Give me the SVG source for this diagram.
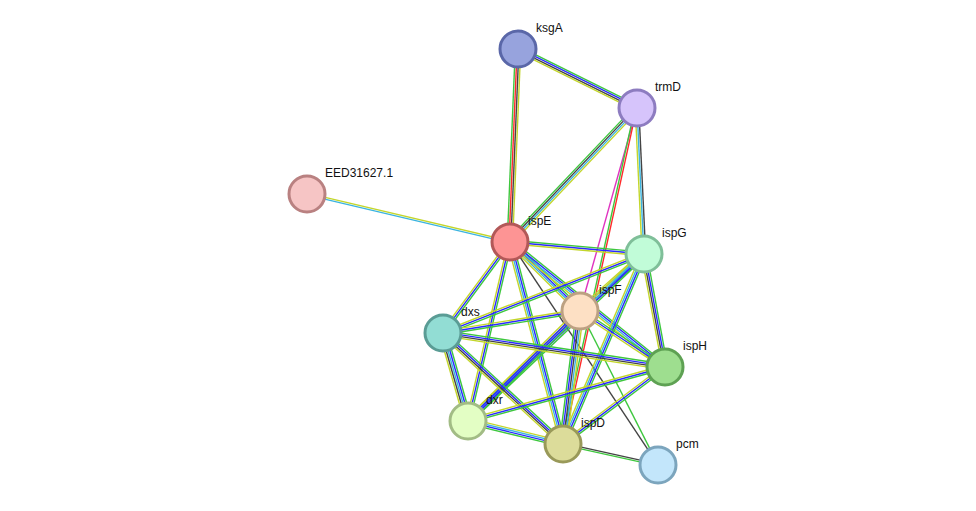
<svg xmlns="http://www.w3.org/2000/svg" width="976" height="511" viewBox="0 0 976 511">
<style>
line{stroke-width:1.4;fill:none}
.g{stroke:#3ec73e}.b{stroke:#2a2aff}.k{stroke:#444}.y{stroke:#c3d62b}.c{stroke:#3bb4e0}.r{stroke:#ff2a2a}.m{stroke:#e033c0}
.n{stroke-width:3}
text{font-family:"Liberation Sans",Arial,sans-serif;font-size:12px;fill:#111}
</style>
<rect width="976" height="511" fill="#fff"/>
<g id="connectors">
<g transform="translate(518,49) rotate(26.4)"><line class="g" x2="132.8" y1="-2.7" y2="-2.7"/><line class="b" x2="132.8" y1="-0.9" y2="-0.9"/><line class="k" x2="132.8" y1="0.9" y2="0.9"/><line class="y" x2="132.8" y1="2.7" y2="2.7"/></g>
<g transform="translate(518,49) rotate(92.4)"><line class="y" x2="193.2" y1="-2.7" y2="-2.7"/><line class="k" x2="193.2" y1="-0.9" y2="-0.9"/><line class="r" x2="193.2" y1="0.9" y2="0.9"/><line class="g" x2="193.2" y1="2.7" y2="2.7"/></g>
<g transform="translate(637,108) rotate(133.5)"><line class="y" x2="184.6" y1="-2.7" y2="-2.7"/><line class="c" x2="184.6" y1="-0.9" y2="-0.9"/><line class="k" x2="184.6" y1="0.9" y2="0.9"/><line class="g" x2="184.6" y1="2.7" y2="2.7"/></g>
<g transform="translate(637,108) rotate(105.7)"><line class="m" x2="210.9"/></g>
<g transform="translate(637,108) rotate(102.4)"><line class="r" x2="344.1" y1="0.2" y2="0.2"/><line class="g" x2="344.1" y1="2" y2="2"/></g>
<g transform="translate(637,108) rotate(87.3)"><line class="k" x2="146.2" y1="-1.8" y2="-1.8"/><line class="c" x2="146.2"/><line class="y" x2="146.2" y1="1.8" y2="1.8"/></g>
<g transform="translate(307,194) rotate(13.3)"><line class="y" x2="208.6" y1="-0.9" y2="-0.9"/><line class="c" x2="208.6" y1="0.9" y2="0.9"/></g>
<g transform="translate(510,242) rotate(5.1)"><line class="g" x2="134.5" y1="-1.8" y2="-1.8"/><line class="b" x2="134.5"/><line class="y" x2="134.5" y1="1.8" y2="1.8"/></g>
<g transform="translate(510,242) rotate(44.6)"><line class="g" x2="98.3" y1="-2.7" y2="-2.7"/><line class="b" x2="98.3" y1="-0.9" y2="-0.9"/><line class="c" x2="98.3" y1="0.9" y2="0.9"/><line class="y" x2="98.3" y1="2.7" y2="2.7"/></g>
<g transform="translate(510,242) rotate(126.4)"><line class="g" x2="113" y1="-1.8" y2="-1.8"/><line class="b" x2="113"/><line class="y" x2="113" y1="1.8" y2="1.8"/></g>
<g transform="translate(510,242) rotate(38.9)"><line class="g" x2="199.1" y1="-2.7" y2="-2.7"/><line class="b" x2="199.1" y1="-0.9" y2="-0.9"/><line class="c" x2="199.1" y1="0.9" y2="0.9"/><line class="y" x2="199.1" y1="2.7" y2="2.7"/></g>
<g transform="translate(510,242) rotate(103.2)"><line class="g" x2="183.9" y1="-1.8" y2="-1.8"/><line class="b" x2="183.9"/><line class="y" x2="183.9" y1="1.8" y2="1.8"/></g>
<g transform="translate(510,242) rotate(75.3)"><line class="g" x2="208.8" y1="-2.7" y2="-2.7"/><line class="b" x2="208.8" y1="-0.9" y2="-0.9"/><line class="c" x2="208.8" y1="0.9" y2="0.9"/><line class="y" x2="208.8" y1="2.7" y2="2.7"/></g>
<g transform="translate(510,242) rotate(56.4)"><line class="k" x2="267.6"/></g>
<g transform="translate(644,254) rotate(138.3)"><line class="g" x2="85.7" y1="-2.7" y2="-2.7"/><line class="b" x2="85.7" y1="-0.9" y2="-0.9"/><line class="c" x2="85.7" y1="0.9" y2="0.9"/><line class="y" x2="85.7" y1="2.7" y2="2.7"/></g>
<g transform="translate(644,254) rotate(158.5)"><line class="g" x2="216" y1="-1.8" y2="-1.8"/><line class="b" x2="216"/><line class="y" x2="216" y1="1.8" y2="1.8"/></g>
<g transform="translate(644,254) rotate(79.5)"><line class="g" x2="114.9" y1="-2.7" y2="-2.7"/><line class="b" x2="114.9" y1="-0.9" y2="-0.9"/><line class="k" x2="114.9" y1="0.9" y2="0.9"/><line class="y" x2="114.9" y1="2.7" y2="2.7"/></g>
<g transform="translate(644,254) rotate(136.5)"><line class="g" x2="242.6" y1="-2.7" y2="-2.7"/><line class="b" x2="242.6" y1="-0.9" y2="-0.9"/><line class="c" x2="242.6" y1="0.9" y2="0.9"/><line class="y" x2="242.6" y1="2.7" y2="2.7"/></g>
<g transform="translate(644,254) rotate(113.1)"><line class="g" x2="206.5" y1="-2.7" y2="-2.7"/><line class="b" x2="206.5" y1="-0.9" y2="-0.9"/><line class="c" x2="206.5" y1="0.9" y2="0.9"/><line class="y" x2="206.5" y1="2.7" y2="2.7"/></g>
<g transform="translate(580,311) rotate(170.9)"><line class="g" x2="138.8" y1="-1.8" y2="-1.8"/><line class="b" x2="138.8"/><line class="y" x2="138.8" y1="1.8" y2="1.8"/></g>
<g transform="translate(580,311) rotate(33.4)"><line class="g" x2="101.8" y1="-1.8" y2="-1.8"/><line class="b" x2="101.8"/><line class="y" x2="101.8" y1="1.8" y2="1.8"/></g>
<g transform="translate(580,311) rotate(135.5)"><line class="g" x2="157" y1="-2.7" y2="-2.7"/><line class="b" x2="157" y1="-0.9" y2="-0.9"/><line class="b" x2="157" y1="0.9" y2="0.9"/><line class="y" x2="157" y1="2.7" y2="2.7"/></g>
<g transform="translate(580,311) rotate(97.3)"><line class="y" x2="134.1" y1="-3.6" y2="-3.6"/><line class="c" x2="134.1" y1="-1.8" y2="-1.8"/><line class="k" x2="134.1"/><line class="b" x2="134.1" y1="1.8" y2="1.8"/><line class="g" x2="134.1" y1="3.6" y2="3.6"/></g>
<g transform="translate(580,311) rotate(63.1)"><line class="g" x2="172.6"/></g>
<g transform="translate(443,333) rotate(8.7)"><line class="g" x2="224.6" y1="-2.7" y2="-2.7"/><line class="b" x2="224.6" y1="-0.9" y2="-0.9"/><line class="k" x2="224.6" y1="0.9" y2="0.9"/><line class="y" x2="224.6" y1="2.7" y2="2.7"/></g>
<g transform="translate(443,333) rotate(74.1)"><line class="g" x2="91.5" y1="-3.6" y2="-3.6"/><line class="b" x2="91.5" y1="-1.8" y2="-1.8"/><line class="c" x2="91.5"/><line class="k" x2="91.5" y1="1.8" y2="1.8"/><line class="y" x2="91.5" y1="3.6" y2="3.6"/></g>
<g transform="translate(443,333) rotate(42.8)"><line class="g" x2="163.5" y1="-2.7" y2="-2.7"/><line class="b" x2="163.5" y1="-0.9" y2="-0.9"/><line class="k" x2="163.5" y1="0.9" y2="0.9"/><line class="y" x2="163.5" y1="2.7" y2="2.7"/></g>
<g transform="translate(665,367) rotate(164.7)"><line class="g" x2="204.3" y1="-1.8" y2="-1.8"/><line class="b" x2="204.3"/><line class="y" x2="204.3" y1="1.8" y2="1.8"/></g>
<g transform="translate(665,367) rotate(143)"><line class="g" x2="127.8" y1="-1.8" y2="-1.8"/><line class="b" x2="127.8"/><line class="y" x2="127.8" y1="1.8" y2="1.8"/></g>
<g transform="translate(468,421) rotate(13.6)"><line class="y" x2="97.7" y1="-2.7" y2="-2.7"/><line class="c" x2="97.7" y1="-0.9" y2="-0.9"/><line class="b" x2="97.7" y1="0.9" y2="0.9"/><line class="g" x2="97.7" y1="2.7" y2="2.7"/></g>
<g transform="translate(563,444) rotate(12.5)"><line class="k" x2="97.3" y1="-0.9" y2="-0.9"/><line class="g" x2="97.3" y1="0.9" y2="0.9"/></g>
</g>
<g id="ksgA"><circle class="n" cx="518" cy="49" r="18" fill="#97a3dd" stroke="#5a67a8"/><text x="536" y="32">ksgA</text></g>
<g id="trmD"><circle class="n" cx="637" cy="108" r="18" fill="#d6c4fb" stroke="#8d7cc0"/><text x="655" y="91">trmD</text></g>
<g id="EED31627.1"><circle class="n" cx="307" cy="194" r="18" fill="#f6c5c5" stroke="#b98181"/><text x="325" y="177">EED31627.1</text></g>
<g id="ispE"><circle class="n" cx="510" cy="242" r="18" fill="#fd9494" stroke="#b25858"/><text x="528" y="225">ispE</text></g>
<g id="ispG"><circle class="n" cx="644" cy="254" r="18" fill="#c1fcd8" stroke="#7fbf99"/><text x="662" y="237">ispG</text></g>
<g id="ispF"><circle class="n" cx="580" cy="311" r="18" fill="#fde0c4" stroke="#bca182"/><text x="599" y="294">ispF</text></g>
<g id="dxs"><circle class="n" cx="443" cy="333" r="18" fill="#92ddd4" stroke="#5a9c95"/><text x="461" y="316">dxs</text></g>
<g id="ispH"><circle class="n" cx="665" cy="367" r="18" fill="#9ede8f" stroke="#5ea153"/><text x="683" y="350">ispH</text></g>
<g id="dxr"><circle class="n" cx="468" cy="421" r="18" fill="#e3fec4" stroke="#a2bc85"/><text x="486" y="404">dxr</text></g>
<g id="ispD"><circle class="n" cx="563" cy="444" r="18" fill="#dcdc9a" stroke="#999959"/><text x="581" y="427">ispD</text></g>
<g id="pcm"><circle class="n" cx="658" cy="465" r="18" fill="#c3e6fb" stroke="#7ca5bd"/><text x="676" y="448">pcm</text></g>
</svg>
